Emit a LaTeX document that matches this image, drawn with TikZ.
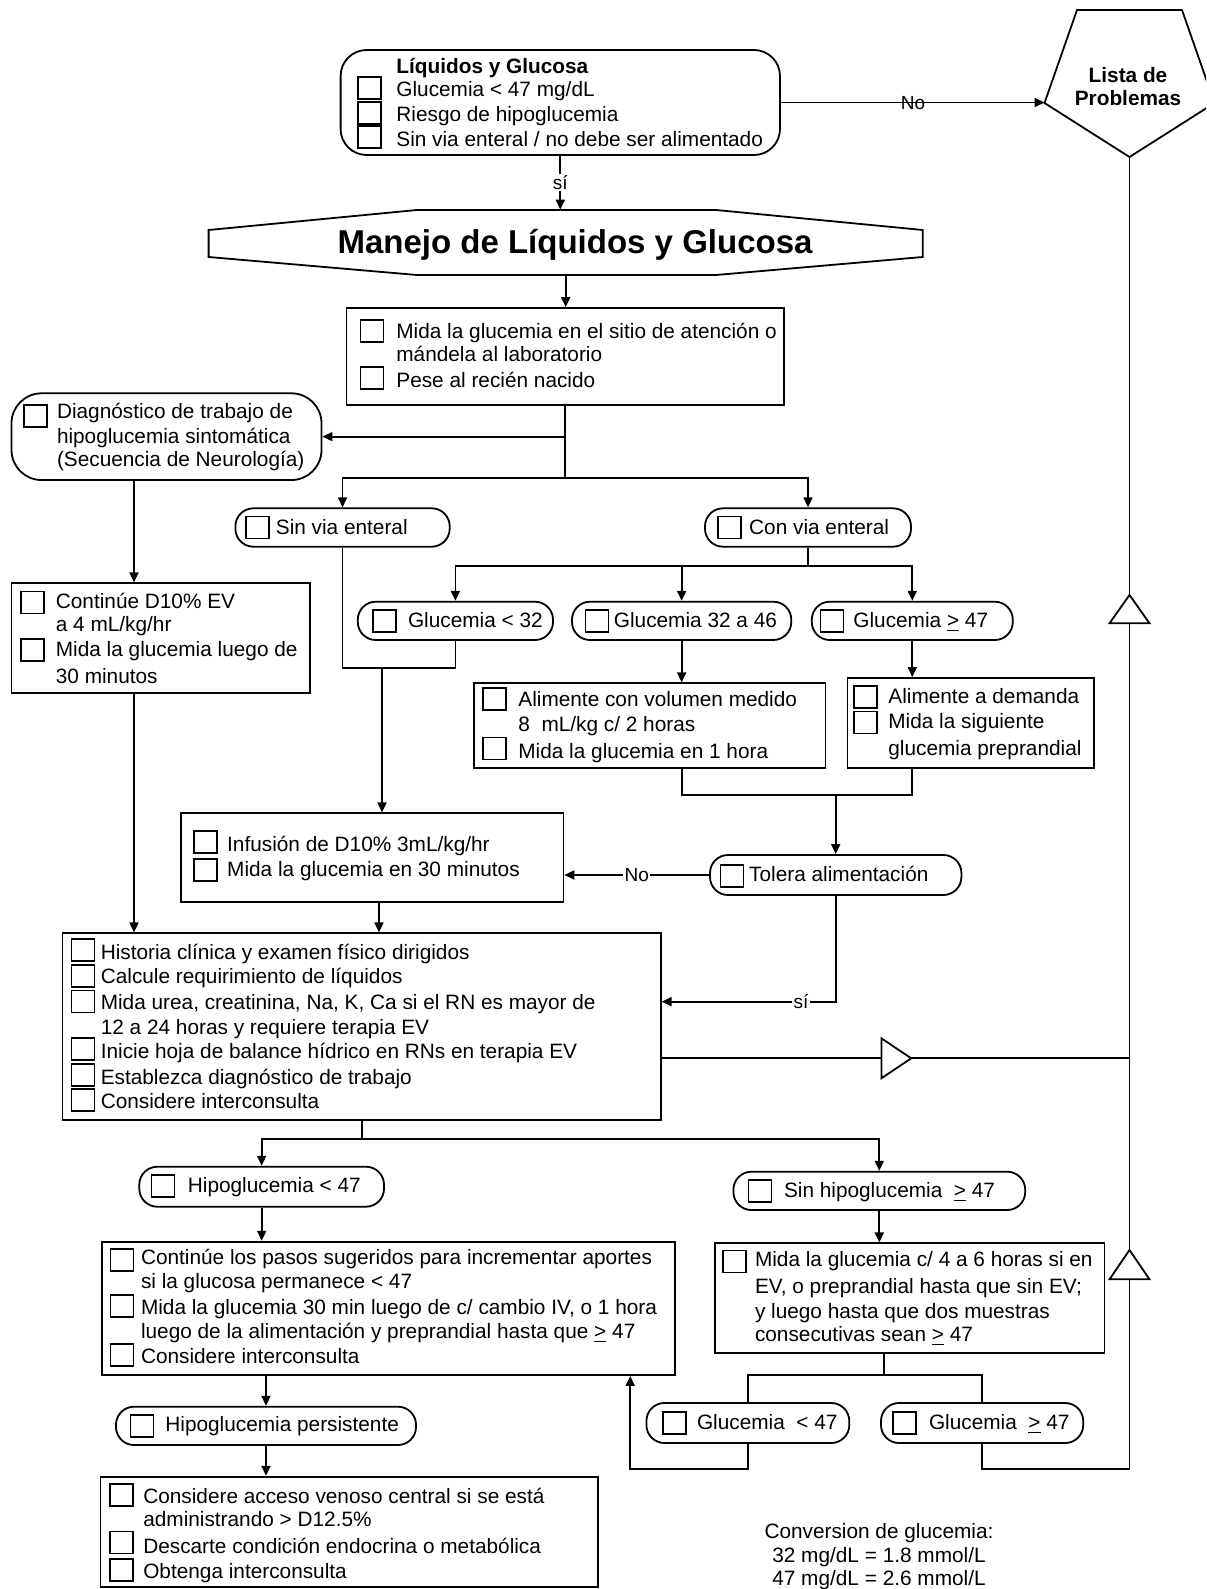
\documentclass[tikz,border=0pt]{standalone}
\usepackage{fontspec}
\setmainfont{Liberation Sans}
\usetikzlibrary{arrows.meta,fit,calc}
\newcommand\fs{\fontsize{10.4}{12.4}\selectfont}
\newcommand\cbx[2]{\node[ckb] (#1) at (#2) {};}
\newcommand\tln[3]{\node[ln] (#1) at (#2) {#3};}
\begin{document}
\begin{tikzpicture}[x=0.5pt,y=-0.5pt,
  every node/.style={font=\fs},
  bx/.style={draw, line width=0.9pt, inner sep=0pt, rectangle},
  stad/.style={bx, rounded corners=9pt},
  ckb/.style={draw, line width=0.8pt, inner sep=0pt, minimum width=11.5pt, minimum height=11pt},
  ln/.style={anchor=west, inner sep=0pt, text height=8pt, text depth=1.5pt},
  arr/.style={line width=0.9pt, -{Triangle[length=5pt,width=4.5pt]}},
  con/.style={line width=0.9pt},
  lbl/.style={fill=white, inner sep=0.6pt, font=\fontsize{9.5}{11}\selectfont},
  trimark/.style={line width=0.9pt, fill=white}]
\fill[white] (0,0) rectangle (1206,1589);
\useasboundingbox (0,0) rectangle (1206,1589);
\clip (0,0) rectangle (1206,1589);

% ---------- top box
\node[bx, rounded corners=13pt, fit={(340.6,50) (780,155)}] (top) {};
\cbx{topc1}{369.5,88}\cbx{topc2}{369.5,113}\cbx{topc3}{369.5,137}
\tln{topt0}{396,67}{\textbf{Líquidos y Glucosa}}
\tln{topt1}{396,90}{Glucemia < 47 mg/dL}
\tln{topt2}{396,115}{Riesgo de hipoglucemia}
\tln{topt3}{396,140}{Sin via enteral / no debe ser alimentado}

% ---------- Lista de problemas (pentagon)
\draw[con] (1077,10) -- (1182,10) -- (1214.5,103) -- (1129.5,157) -- (1044.5,103) -- cycle;
\node[align=center, inner sep=0pt, font=\bfseries\fontsize{10.4}{11.5}\selectfont] (lista) at (1128,87) {Lista de\\Problemas};
\coordinate (listaL) at (1044.5,103);
\coordinate (listaB) at (1129.5,157);
\coordinate (xv) at (1129.5,0);

\draw[arr] (top.east) -- (top.east -| listaL);
\node[lbl, fill=none] (no1) at (913,103) {No};

% ---------- Manejo hexagon
\node[fit={(208.6,210) (922.8,275)}, inner sep=0pt] (manejo) {};
\draw[con] (208.6,230) -- (417,210) -- (716,210) -- (922.8,230) -- (922.8,257) -- (716,275) -- (417,275) -- (208.6,257) -- cycle;
\node[anchor=base, inner sep=0pt, font=\bfseries\fontsize{16.5}{19}\selectfont] (manejoT) at (575,254) {Manejo de Líquidos y Glucosa};
\draw[arr] (top.south) -- (top.south |- manejo.north) node[lbl, midway] (si1) {sí};

% ---------- Mida box
\node[bx, fit={(346.4,308) (783.6,405)}] (mida) {};
\draw[arr] (manejo.south) -- (manejo.south |- mida.north);
\cbx{midac1}{372,331}\cbx{midac2}{372,378}
\tln{midat1}{396,331.7}{Mida la glucemia en el sitio de atención o}
\tln{midat2}{396,355}{mándela al laboratorio}
\tln{midat3}{396,380.7}{Pese al recién nacido}

% ---------- Diagnostico
\node[bx, rounded corners=15pt, fit={(11.5,393.3) (321.5,480)}] (diag) {};
\cbx{diagc1}{35.4,416}
\tln{diagt1}{56.6,411.7}{Diagnóstico de trabajo de}
\tln{diagt2}{56.6,436.7}{hipoglucemia sintomática}
\tln{diagt3}{56.6,460}{(Secuencia de Neurología)}

% ---------- Sin / Con via enteral
\node[stad, fit={(235.4,508.3) (449.7,546.7)}] (sinvia) {};
\cbx{sinviac}{257.5,527.5}
\tln{sinviat}{275.5,527.5}{Sin via enteral}
\node[stad, fit={(705,508.3) (911,546.7)}] (convia) {};
\cbx{conviac}{729.5,527.5}
\tln{conviat}{748.8,527.5}{Con via enteral}

\coordinate (br1) at (mida.south |- 0,478.3);
\draw[con] (mida.south) -- (br1);
\draw[arr] (mida.south |- diag.east) -- (diag.east);
\draw[arr] (br1) -| (sinvia.north);
\draw[arr] (br1) -| (convia.north);

% ---------- Continue D10
\node[bx, fit={(11.5,583.3) (310,693.3)}] (cont1) {};
\cbx{cont1c1}{32.5,602.5}\cbx{cont1c2}{32.5,650}
\tln{cont1t1}{55.5,601.7}{Continúe D10\% EV}
\tln{cont1t2}{55.5,625}{a 4 mL/kg/hr}
\tln{cont1t3}{55.5,650}{Mida la glucemia luego de}
\tln{cont1t4}{55.5,676.7}{30 minutos}
\coordinate (xa) at (134,0);
\draw[arr] (diag.south -| xa) -- (cont1.north -| xa);

% ---------- Glucemia stadia
\node[stad, fit={(357.8,601.7) (553,640)}] (g32) {};
\cbx{g32c}{384.5,621}
\tln{g32t}{407.6,620.8}{Glucemia < 32}
\node[stad, fit={(572,601.7) (791.3,640)}] (g3246) {};
\cbx{g3246c}{597,621}
\tln{g3246t}{613.5,620.8}{Glucemia 32 a 46}
\node[stad, fit={(811.8,601.7) (1012.8,640)}] (g47) {};
\cbx{g47c}{832,621}
\tln{g47t}{853,620.8}{Glucemia \underline{>} 47}

\coordinate (br2) at (convia.south |- 0,566);
\draw[con] (convia.south) -- (br2);
\draw[arr] (br2) -| (g32.north);
\draw[arr] (br2) -| (g47.north);
\draw[arr] (g3246.north |- br2) -- (g3246.north);

% ---------- Alimente boxes
\node[bx, fit={(474,683.3) (825.4,768.3)}] (alim1) {};
\cbx{alim1c1}{494.4,699}\cbx{alim1c2}{494.4,748.3}
\tln{alim1t1}{518,700}{Alimente con volumen medido}
\tln{alim1t2}{518,725}{8\ \ mL/kg c/ 2 horas}
\tln{alim1t3}{518,751.7}{Mida la glucemia en 1 hora}
\draw[arr] (g3246.south) -- (g3246.south |- alim1.north);

\node[bx, fit={(847.4,678) (1094,768.3)}] (alim2) {};
\cbx{alim2c1}{865.7,697}\cbx{alim2c2}{865.7,722.5}
\tln{alim2t1}{888,697}{Alimente a demanda}
\tln{alim2t2}{888,721.7}{Mida la siguiente}
\tln{alim2t3}{888,749.3}{glucemia preprandial}
\draw[arr] (g47.south) -- (g47.south |- alim2.north);

% ---------- Infusion
\node[bx, fit={(180.8,813.3) (563.4,901.7)}] (infusion) {};
\cbx{infc1}{205.4,841.7}\cbx{infc2}{205.4,870}
\tln{inft1}{226.8,845}{Infusión de D10\% 3mL/kg/hr}
\tln{inft2}{226.8,870}{Mida la glucemia en 30 minutos}
\coordinate (m1) at (sinvia.south |- 0,668.3);
\draw[con] (sinvia.south) -- (m1) -| (g32.south);
\coordinate (xb) at (382,0);
\draw[arr] (m1 -| xb) -- (infusion.north -| xb);

% ---------- Tolera
\node[stad, fit={(710,855) (961.4,895)}] (tolera) {};
\cbx{tolc}{732,876}
\tln{tolt}{748.8,875}{Tolera alimentación}
\coordinate (m2) at (tolera.north |- 0,795);
\draw[con] (alim1.south -| g3246.south) |- (m2);
\draw[con] (alim2.south -| g47.south) |- (m2);
\draw[arr] (m2) -- (tolera.north);
\draw[arr] (tolera.west) -- (tolera.west -| infusion.east);
\node[lbl] (no2) at (636.7,875) {No};

% ---------- Historia box
\node[bx, fit={(62.5,933.3) (660.7,1120)}] (hist) {};
\cbx{histc1}{83,950}\cbx{histc2}{83,975.8}\cbx{histc3}{83,1001.5}
\cbx{histc4}{83,1049}\cbx{histc5}{83,1075}\cbx{histc6}{83,1100}
\tln{histt1}{100.4,953.3}{Historia clínica y examen físico dirigidos}
\tln{histt2}{100.4,976.7}{Calcule requirimiento de líquidos}
\tln{histt3}{100.4,1003.3}{Mida urea, creatinina, Na, K, Ca si el RN es mayor de}
\tln{histt4}{100.4,1028.3}{12 a 24 horas y requiere terapia EV}
\tln{histt5}{100.4,1051.7}{Inicie hoja de balance hídrico en RNs en terapia EV}
\tln{histt6}{100.4,1078.3}{Establezca diagnóstico de trabajo}
\tln{histt7}{100.4,1101.7}{Considere interconsulta}
\draw[arr] (cont1.south -| xa) -- (hist.north -| xa);
\coordinate (xc) at (379,0);
\draw[arr] (infusion.south -| xc) -- (hist.north -| xc);
\coordinate (ysi) at (0,1001.7);
\draw[arr] (tolera.south) |- (hist.east |- ysi);
\node[lbl] (si2) at (801,1001.7) {sí};
\coordinate (yh) at (0,1058.3);
\draw[con] (hist.east |- yh) -- (xv |- yh);
\draw[trimark] (881.4,1038.3) -- (911.2,1058.3) -- (881.4,1078.3) -- cycle;

% ---------- Hipoglucemia branches
\node[stad, fit={(139.3,1166.7) (384,1206.7)}] (hipo) {};
\cbx{hipoc}{163,1186}
\tln{hipot}{187.5,1185.5}{Hipoglucemia < 47}
\node[stad, fit={(733.4,1171.7) (1025.2,1210)}] (sinhipo) {};
\cbx{sinhipoc}{760,1191}
\tln{sinhipot}{783.6,1190.8}{Sin hipoglucemia \ \underline{>} 47}
\coordinate (br3) at (hist.south |- 0,1139.3);
\draw[con] (hist.south) -- (br3);
\draw[arr] (br3) -| (hipo.north);
\draw[arr] (br3) -| (sinhipo.north);

% ---------- Continue pasos
\node[bx, fit={(101.8,1241.7) (675,1375)}] (cont2) {};
\cbx{cont2c1}{121.9,1259.8}\cbx{cont2c2}{121.9,1305.8}\cbx{cont2c3}{121.9,1354.8}
\tln{cont2t1}{140.6,1258.3}{Continúe los pasos sugeridos para incrementar aportes}
\tln{cont2t2}{140.6,1281.7}{si la glucosa permanece < 47}
\tln{cont2t3}{140.6,1308.3}{Mida la glucemia 30 min luego de c/ cambio IV, o 1 hora}
\tln{cont2t4}{140.6,1331.7}{luego de la alimentación y preprandial hasta que \underline{>} 47}
\tln{cont2t5}{140.6,1356.7}{Considere interconsulta}
\draw[arr] (hipo.south) -- (hipo.south |- cont2.north);

% ---------- persistente
\node[stad, fit={(116,1406.7) (416,1445)}] (persist) {};
\cbx{persc}{141.8,1426}
\tln{perst}{165,1425}{Hipoglucemia persistente}
\draw[arr] (persist.north |- cont2.south) -- (persist.north);

% ---------- final box
\node[bx, fit={(100.4,1476.7) (598,1587)}] (final) {};
\cbx{finc1}{121.2,1494.8}\cbx{finc2}{121.2,1542.3}\cbx{finc3}{121.2,1569.8}
\tln{fint1}{142.9,1496.7}{Considere acceso venoso central si se está}
\tln{fint2}{142.9,1520}{administrando > D12.5\%}
\tln{fint3}{142.9,1546.7}{Descarte condición endocrina o metabólica}
\tln{fint4}{142.9,1571.7}{Obtenga interconsulta}
\draw[arr] (persist.south) -- (persist.south |- final.north);

% ---------- Mida c/4
\node[bx, fit={(715.2,1243.3) (1104.4,1353.3)}] (mida2) {};
\cbx{mida2c}{734.5,1261.5}
\tln{mida2t1}{754.6,1260}{Mida la glucemia c/ 4 a 6 horas si en}
\tln{mida2t2}{754.6,1286.7}{EV, o preprandial hasta que sin EV;}
\tln{mida2t3}{754.6,1311.7}{y luego hasta que dos muestras}
\tln{mida2t4}{754.6,1335}{consecutivas sean \underline{>} 47}
\draw[arr] (sinhipo.south) -- (sinhipo.south |- mida2.north);

\node[stad, fit={(646.4,1403) (849.3,1443)}] (glt47) {};
\cbx{glt47c}{674.4,1423}
\tln{glt47t}{696.6,1423}{Glucemia \ < 47}
\node[stad, fit={(881,1403) (1083.2,1443)}] (gge47) {};
\cbx{gge47c}{904.4,1423}
\tln{gge47t}{928.6,1423}{Glucemia \ \underline{>} 47}
\coordinate (xd) at (884,0);
\coordinate (br4) at (xd |- 0,1375);
\draw[con] (mida2.south -| xd) -- (br4);
\draw[con] (br4) -| (glt47.north);
\draw[con] (br4) -| (gge47.north);
\coordinate (yb) at (0,1469.3);
\coordinate (xe) at (630.2,0);
\draw[arr] (glt47.south) |- (xe |- yb) -- (cont2.south -| xe);
\draw[con] (gge47.south) |- (xv |- yb) -- (listaB);
\draw[trimark] (1129.5,595) -- (1149.5,623.3) -- (1109.5,623.3) -- cycle;
\draw[trimark] (1129.5,1250) -- (1149.5,1279.3) -- (1109.5,1279.3) -- cycle;

% ---------- conversion note
\node[align=center, inner sep=0pt, font=\fontsize{10.4}{11.7}\selectfont] (conv) at (879,1557) {Conversion de glucemia:\\32 mg/dL = 1.8 mmol/L\\47 mg/dL = 2.6 mmol/L};
\end{tikzpicture}
\end{document}
